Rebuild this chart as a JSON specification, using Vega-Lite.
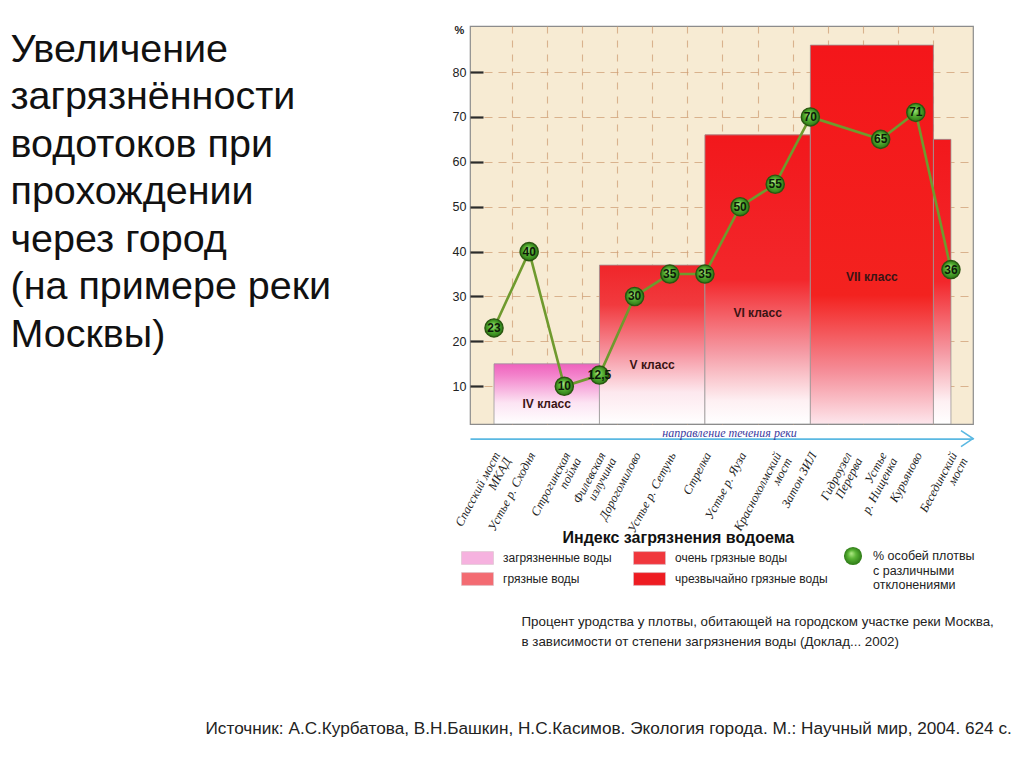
{
  "$schema": "https://vega.github.io/schema/vega-lite/v6.json",
  "width": 503,
  "height": 398,
  "autosize": {"type": "none"},
  "padding": {"left": 470, "top": 26, "right": 51, "bottom": 343},
  "background": "#ffffff",
  "config": {
    "font": "Liberation Sans",
    "view": {"fill": "#f7ebd3", "stroke": "#8c8c8c", "strokeWidth": 1.2}
  },
  "datasets": {
    "stations": [
      {"n": 0, "station": "Спасский мост\nМКАД", "value": 23},
      {"n": 1, "station": "Устье р. Сходня", "value": 40},
      {"n": 2, "station": "Строгинская\nпойма", "value": 10},
      {"n": 3, "station": "Филевская\nизлучина", "value": 12.5},
      {"n": 4, "station": "Дорогомилово", "value": 30},
      {"n": 5, "station": "Устье р. Сетунь", "value": 35},
      {"n": 6, "station": "Стрелка", "value": 35},
      {"n": 7, "station": "Устье р. Яуза", "value": 50},
      {"n": 8, "station": "Краснохолмский\nмост", "value": 55},
      {"n": 9, "station": "Затон ЗИЛ", "value": 70},
      {"n": 10, "station": "Гидроузел\nПерерва", "value": null},
      {"n": 11, "station": "Устье\nр. Нищенка", "value": 65},
      {"n": 12, "station": "Курьяново", "value": 71},
      {"n": 13, "station": "Бесединский\nмост", "value": 36}
    ],
    "classes": [
      {"class": "IV класс", "water": "загрязненные воды", "from": 0, "to": 3, "top": 15},
      {"class": "V класс", "water": "грязные воды", "from": 3, "to": 6, "top": 37},
      {"class": "VI класс", "water": "очень грязные воды", "from": 6, "to": 9, "top": 66},
      {"class": "VII класс", "water": "чрезвычайно грязные воды", "from": 9, "to": 12.5, "top": 86},
      {"class": null, "water": "очень грязные воды", "from": 12.5, "to": 13, "top": 65}
    ]
  },
  "resolve": {"axis": {"x": "independent", "y": "independent"}},
  "layer": [
    {
      "data": {"name": "classes"},
      "mark": {"type": "bar", "clip": true, "strokeWidth": 0},
      "encoding": {
        "x": {
          "field": "from", "type": "quantitative",
          "scale": {"domain": [-0.683, 13.627], "nice": false, "zero": false},
          "axis": {
            "orient": "bottom",
            "values": [0.5, 1.5, 2.5, 3.5, 4.5, 5.5, 6.5, 7.5, 8.5, 9.5, 10.5, 11.5, 12.5],
            "grid": true, "gridDash": [7, 7], "gridColor": "#cf9f76", "gridWidth": 1.1, "gridOpacity": 0.75,
            "labels": false, "ticks": false,
            "domain": true, "domainColor": "#5ab8e2", "domainWidth": 1.6,
            "offset": 14.6,
            "title": "направление течения реки",
            "titleFont": "Liberation Serif", "titleFontStyle": "italic", "titleFontWeight": "normal",
            "titleFontSize": 12, "titleColor": "#3c3a9e",
            "titleX": 259, "titleY": -6, "titleAlign": "center", "titleBaseline": "middle"
          }
        },
        "x2": {"field": "to"},
        "y": {
          "field": "top", "type": "quantitative",
          "scale": {"domain": [1.6, 90.25], "nice": false, "zero": false},
          "axis": {
            "orient": "left",
            "values": [10, 20, 30, 40, 50, 60, 70, 80],
            "grid": true, "gridDash": [8, 6], "gridColor": "#cf9f76", "gridWidth": 1.1, "gridOpacity": 0.75,
            "domain": false,
            "ticks": true, "tickSize": -13, "tickColor": "#2b2b2b", "tickWidth": 2.2,
            "labelPadding": 17, "labelFont": "Liberation Sans", "labelFontSize": 12.5, "labelColor": "#222",
            "title": "%", "titleAngle": 0, "titleX": -11, "titleY": 4, "titleAlign": "center", "titleBaseline": "middle",
            "titleFontSize": 11, "titleFontWeight": "bold", "titleColor": "#222"
          }
        },
        "y2": {"datum": 1.6},
        "fill": {
          "field": "water", "type": "nominal",
          "scale": {
            "domain": ["загрязненные воды", "грязные воды", "очень грязные воды", "чрезвычайно грязные воды"],
            "range": ["#f6b2df", "#f36b72", "#f0373d", "#ee1c22"]
          },
          "legend": {
            "orient": "none", "legendX": -9, "legendY": 525, "title": null, "columns": 2,
            "symbolType": "M-1,-0.4H1V0.4H-1Z", "symbolSize": 1024,
            "symbolStrokeColor": "#d9c5cb", "symbolStrokeWidth": 0.6, "symbolOpacity": 1,
            "clipHeight": 14, "rowPadding": 7, "columnPadding": 21, "labelOffset": 9,
            "labelFont": "Liberation Sans", "labelFontSize": 12, "labelColor": "#222", "labelLimit": 300,
            "padding": 0
          }
        }
      }
    },
    {
      "data": {"name": "classes"},
      "transform": [{"filter": "datum.water === 'загрязненные воды'"}],
      "mark": {"type": "bar", "clip": true, "stroke": "#9a9a9a", "strokeWidth": 0.8,
        "fill": {"gradient": "linear", "x1": 0, "y1": 0, "x2": 0, "y2": 1, "stops": [{"offset": 0, "color": "#ef62bd"}, {"offset": 0.2, "color": "#f384cc"}, {"offset": 0.65, "color": "#fce4f3"}, {"offset": 1, "color": "#ffffff"}]}},
      "encoding": {
        "x": {"field": "from", "type": "quantitative", "scale": {"domain": [-0.683, 13.627], "nice": false, "zero": false}, "axis": null},
        "x2": {"field": "to"},
        "y": {"field": "top", "type": "quantitative", "scale": {"domain": [1.6, 90.25], "nice": false, "zero": false}, "axis": null},
        "y2": {"datum": 1.6}
      }
    },
    {
      "data": {"name": "classes"},
      "transform": [{"filter": "datum.water === 'грязные воды'"}],
      "mark": {"type": "bar", "clip": true, "stroke": "#9a9a9a", "strokeWidth": 0.8,
        "fill": {"gradient": "linear", "x1": 0, "y1": 0, "x2": 0, "y2": 1, "stops": [{"offset": 0, "color": "#f0262a"}, {"offset": 0.25, "color": "#f13a3e"}, {"offset": 0.55, "color": "#f6939f"}, {"offset": 0.8, "color": "#fde8ee"}, {"offset": 1, "color": "#ffffff"}]}},
      "encoding": {
        "x": {"field": "from", "type": "quantitative", "scale": {"domain": [-0.683, 13.627], "nice": false, "zero": false}, "axis": null},
        "x2": {"field": "to"},
        "y": {"field": "top", "type": "quantitative", "scale": {"domain": [1.6, 90.25], "nice": false, "zero": false}, "axis": null},
        "y2": {"datum": 1.6}
      }
    },
    {
      "data": {"name": "classes"},
      "transform": [{"filter": "datum.water === 'очень грязные воды'"}],
      "mark": {"type": "bar", "clip": true, "stroke": "#9a9a9a", "strokeWidth": 0.8,
        "fill": {"gradient": "linear", "x1": 0, "y1": 0, "x2": 0, "y2": 1, "stops": [{"offset": 0, "color": "#f2181c"}, {"offset": 0.5, "color": "#f3272b"}, {"offset": 0.75, "color": "#f59aa4"}, {"offset": 0.92, "color": "#fef0f3"}, {"offset": 1, "color": "#ffffff"}]}},
      "encoding": {
        "x": {"field": "from", "type": "quantitative", "scale": {"domain": [-0.683, 13.627], "nice": false, "zero": false}, "axis": null},
        "x2": {"field": "to"},
        "y": {"field": "top", "type": "quantitative", "scale": {"domain": [1.6, 90.25], "nice": false, "zero": false}, "axis": null},
        "y2": {"datum": 1.6}
      }
    },
    {
      "data": {"name": "classes"},
      "transform": [{"filter": "datum.water === 'чрезвычайно грязные воды'"}],
      "mark": {"type": "bar", "clip": true, "stroke": "#9a9a9a", "strokeWidth": 0.8,
        "fill": {"gradient": "linear", "x1": 0, "y1": 0, "x2": 0, "y2": 1, "stops": [{"offset": 0, "color": "#f4161a"}, {"offset": 0.66, "color": "#f3221f"}, {"offset": 0.86, "color": "#f58d98"}, {"offset": 1, "color": "#fde6ec"}]}},
      "encoding": {
        "x": {"field": "from", "type": "quantitative", "scale": {"domain": [-0.683, 13.627], "nice": false, "zero": false}, "axis": null},
        "x2": {"field": "to"},
        "y": {"field": "top", "type": "quantitative", "scale": {"domain": [1.6, 90.25], "nice": false, "zero": false}, "axis": null},
        "y2": {"datum": 1.6}
      }
    },
    {
      "data": {"name": "classes"},
      "transform": [
        {"filter": "isValid(datum.class)"},
        {"calculate": "(datum.from + datum.to) / 2", "as": "mid"},
        {"calculate": "datum.top * 0.4", "as": "labelY"}
      ],
      "mark": {"type": "text", "font": "Liberation Sans", "fontWeight": "bold", "fontSize": 12, "color": "#3a1414", "align": "center", "baseline": "middle"},
      "encoding": {
        "x": {
          "field": "mid", "type": "quantitative",
          "scale": {"domain": [-0.683, 13.627], "nice": false, "zero": false},
          "axis": {
            "orient": "bottom", "labels": false, "ticks": false, "domain": false, "grid": false,
            "title": ["Процент уродства у плотвы, обитающей на городском участке реки Москва,", "в зависимости от степени загрязнения воды (Доклад... 2002)"],
            "titleX": 51, "titleY": 201, "titleAlign": "left", "titleAnchor": "start", "titleBaseline": "alphabetic",
            "titleFont": "Liberation Sans", "titleFontSize": 13.35, "titleFontWeight": "normal", "titleColor": "#222",
            "titleLineHeight": 20, "titleLimit": 2000
          }
        },
        "y": {
          "field": "labelY", "type": "quantitative",
          "scale": {"domain": [1.6, 90.25], "nice": false, "zero": false},
          "axis": {
            "orient": "left", "labels": false, "ticks": false, "domain": false, "grid": false,
            "title": "Индекс загрязнения водоема",
            "titleAngle": 0, "titleX": 92, "titleY": 516, "titleAlign": "left", "titleBaseline": "alphabetic",
            "titleFont": "Liberation Sans", "titleFontSize": 16, "titleFontWeight": "bold", "titleColor": "#111", "titleLimit": 1000
          }
        },
        "text": {"field": "class", "type": "nominal"}
      }
    },
    {
      "data": {"name": "stations"},
      "transform": [{"filter": "isValid(datum.value)"}],
      "mark": {"type": "line", "color": "#6f9a2e", "strokeWidth": 2.6},
      "encoding": {
        "x": {
          "field": "n", "type": "quantitative",
          "scale": {"domain": [-0.683, 13.627], "nice": false, "zero": false},
          "axis": {
            "orient": "bottom", "labels": false, "ticks": false, "domain": false, "grid": false,
            "title": "Источник: А.С.Курбатова,  В.Н.Башкин, Н.С.Касимов. Экология города. М.: Научный мир, 2004. 624 с.",
            "titleX": -265, "titleY": 309, "titleAlign": "left", "titleAnchor": "start", "titleBaseline": "alphabetic",
            "titleFont": "Liberation Sans", "titleFontSize": 17.2, "titleFontWeight": "normal", "titleColor": "#222", "titleLimit": 2000
          }
        },
        "y": {
          "field": "value", "type": "quantitative",
          "scale": {"domain": [1.6, 90.25], "nice": false, "zero": false},
          "axis": {
            "orient": "left", "labels": false, "ticks": false, "domain": false, "grid": false,
            "title": ["Увеличение", "загрязнённости", "водотоков при", "прохождении", "через город", "(на примере реки", "Москвы)"],
            "titleAngle": 0, "titleX": -460, "titleY": 35, "titleAlign": "left", "titleBaseline": "alphabetic",
            "titleFont": "Liberation Sans", "titleFontSize": 39.5, "titleFontWeight": "normal", "titleColor": "#111",
            "titleLineHeight": 47.5, "titleLimit": 2000
          }
        }
      }
    },
    {
      "data": {"name": "stations"},
      "transform": [{"filter": "isValid(datum.value)"}],
      "mark": {"type": "point", "filled": true, "size": 330, "stroke": "#2a5710", "strokeWidth": 1.4, "opacity": 1,
        "fill": {"gradient": "radial", "x1": 0.4, "y1": 0.35, "r1": 0, "x2": 0.5, "y2": 0.5, "r2": 0.5, "stops": [{"offset": 0, "color": "#b5ec8a"}, {"offset": 0.45, "color": "#5bb536"}, {"offset": 1, "color": "#2d7a16"}]}},
      "encoding": {
        "x": {"field": "n", "type": "quantitative", "scale": {"domain": [-0.683, 13.627], "nice": false, "zero": false}, "axis": null},
        "y": {"field": "value", "type": "quantitative", "scale": {"domain": [1.6, 90.25], "nice": false, "zero": false}, "axis": null},
        "shape": {
          "datum": "% особей плотвы\nс различными\nотклонениями", "type": "nominal",
          "scale": {"range": ["circle"]},
          "legend": {
            "orient": "none", "legendX": 373, "legendY": 520, "title": null,
            "symbolSize": 330, "symbolStrokeWidth": 1.4, "symbolOpacity": 1,
            "symbolFillColor": "#55b030", "symbolStrokeColor": "#2a5710",
            "labelExpr": "split(datum.label, '\\n')",
            "labelFont": "Liberation Sans", "labelFontSize": 12.5, "labelColor": "#222", "labelOffset": 10, "labelBaseline": "middle",
            "padding": 0
          }
        }
      }
    },
    {
      "data": {"name": "stations"},
      "transform": [
        {"filter": "isValid(datum.value)"},
        {"calculate": "replace(format(datum.value, '.3~g'), '.', ',')", "as": "valueLabel"}
      ],
      "mark": {"type": "text", "font": "Liberation Sans", "fontWeight": "bold", "fontSize": 12, "color": "#0d1a08", "align": "center", "baseline": "middle"},
      "encoding": {
        "x": {"field": "n", "type": "quantitative", "scale": {"domain": [-0.683, 13.627], "nice": false, "zero": false}, "axis": null},
        "y": {"field": "value", "type": "quantitative", "scale": {"domain": [1.6, 90.25], "nice": false, "zero": false}, "axis": null},
        "text": {"field": "valueLabel", "type": "nominal"}
      }
    },
    {
      "data": {"name": "stations"},
      "mark": {"type": "text", "angle": 298, "align": "right", "baseline": "middle", "font": "Liberation Serif", "fontStyle": "italic", "fontSize": 12.5, "lineBreak": "\n", "lineHeight": 12, "color": "#1f1f1f", "xOffset": 3, "yOffset": 29},
      "encoding": {
        "x": {"field": "n", "type": "quantitative", "scale": {"domain": [-0.683, 13.627], "nice": false, "zero": false}, "axis": null},
        "y": {"datum": 1.6, "type": "quantitative", "scale": {"domain": [1.6, 90.25], "nice": false, "zero": false}, "axis": null},
        "text": {"field": "station", "type": "nominal"}
      }
    },
    {
      "data": {"values": [{}]},
      "mark": {"type": "point", "shape": "M-1.5,-1L0,0L-1.5,1", "size": 256, "filled": false, "stroke": "#5ab8e2", "strokeWidth": 1.6, "opacity": 1, "yOffset": 14.6},
      "encoding": {
        "x": {"datum": 13.627, "type": "quantitative", "scale": {"domain": [-0.683, 13.627], "nice": false, "zero": false}, "axis": null},
        "y": {"datum": 1.6, "type": "quantitative", "scale": {"domain": [1.6, 90.25], "nice": false, "zero": false}, "axis": null}
      }
    }
  ]
}
